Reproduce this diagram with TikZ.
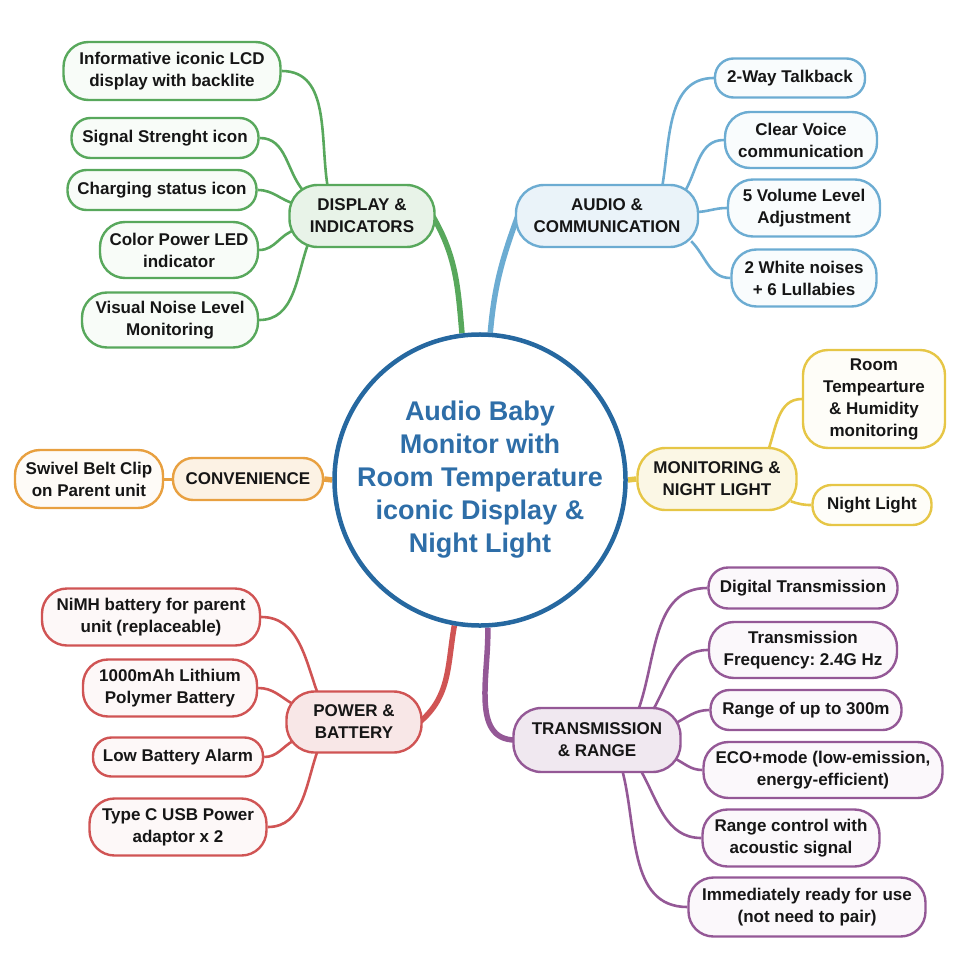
\documentclass[tikz,border=0pt]{standalone}
\usepackage{fontspec}
\setmainfont{Liberation Sans}
\usetikzlibrary{backgrounds}
\definecolor{grn}{RGB}{88,168,92}
\definecolor{blu}{RGB}{108,172,210}
\definecolor{org}{RGB}{232,160,64}
\definecolor{ylw}{RGB}{230,198,70}
\definecolor{rd}{RGB}{208,84,84}
\definecolor{prp}{RGB}{148,88,150}
\definecolor{hubline}{RGB}{38,104,160}
\definecolor{hubtext}{RGB}{46,110,168}
\definecolor{ink}{RGB}{22,22,22}
\newcommand{\leaffont}{\fontsize{17}{22}\selectfont\bfseries\frenchspacing}
\newcommand{\hubfont}{\fontsize{27}{33}\selectfont\bfseries}

\begin{document}
\begin{tikzpicture}[x=1pt,y=1pt,
  leaf/.style={draw=#1, fill=#1!4, line width=2.4pt, rounded corners=19pt,
    align=center, inner sep=0pt, text=ink, font=\leaffont},
  topic/.style={leaf=#1, fill=#1!14, rounded corners=28pt},
  twig/.style={draw=#1, line width=2.6pt},
  limb/.style={draw=#1, line width=5.5pt}]
  \useasboundingbox (0,0) rectangle (960,-960);

  \node[circle, draw=hubline, fill=white, line width=4.5pt, minimum size=284pt, inner sep=0pt,
    align=center, text=hubtext, font=\hubfont] (hub) at (480,-480)
    {Audio Baby\\Monitor with\\Room Temperature\\iconic Display \&\\Night Light};

  \node[topic=grn, minimum width=145pt, minimum height=62pt] (disp) at (362,-216) {DISPLAY \&\\INDICATORS};
  \node[topic=blu, minimum width=182pt, minimum height=62pt] (audio) at (607,-216) {AUDIO \&\\COMMUNICATION};
  \node[topic=org, minimum width=150pt, minimum height=42pt, rounded corners=20pt] (conv) at (248,-479) {CONVENIENCE};
  \node[topic=ylw, minimum width=159pt, minimum height=62pt] (monit) at (717,-479) {MONITORING \&\\NIGHT LIGHT};
  \node[topic=rd, minimum width=135pt, minimum height=61pt] (power) at (354,-722) {POWER \&\\BATTERY};
  \node[topic=prp, minimum width=167pt, minimum height=64pt] (trans) at (597,-740) {TRANSMISSION\\\& RANGE};

  \foreach \nm/\c/\x/\y/\w/\h/\txt in {
    lcd/grn/172/71/217/58/{Informative iconic LCD\\display with backlite},
    signal/grn/165/138/187/40/{Signal Strenght icon},
    charge/grn/162/190/189/40/{Charging status icon},
    led/grn/179/250/158/56/{Color Power LED\\indicator},
    noise/grn/170/320/176/55/{Visual Noise Level\\Monitoring},
    talk/blu/790/78/150/39/{2-Way Talkback},
    voice/blu/801/140/152/56/{Clear Voice\\communication},
    volume/blu/804/208/152/57/{5 Volume Level\\Adjustment},
    lullaby/blu/804/278/145/57/{2 White noises\\+ 6 Lullabies},
    clip/org/89/479/148/58/{Swivel Belt Clip\\on Parent unit},
    temp/ylw/874/399/142/98/{Room\\Tempearture\\\& Humidity\\monitoring},
    light/ylw/872/505/119/40/{Night Light},
    nimh/rd/151/617/218/57/{NiMH battery for parent\\unit (replaceable)},
    lipo/rd/170/688/174/57/{1000mAh Lithium\\Polymer Battery},
    alarm/rd/178/757/170/39/{Low Battery Alarm},
    usbc/rd/178/827/177/57/{Type C USB Power\\adaptor x 2},
    digital/prp/803/588/189/41/{Digital Transmission},
    freq/prp/803/650/188/56/{Transmission\\Frequency: 2.4G Hz},
    range/prp/806/710/191/40/{Range of up to 300m},
    eco/prp/823/770/239/56/{ECO+mode (low-emission,\\energy-efficient)},
    acoustic/prp/791/838/177/57/{Range control with\\acoustic signal},
    pair/prp/807/907/237/59/{Immediately ready for use\\(not need to pair)}}
    \node[leaf=\c, minimum width=\w pt, minimum height=\h pt,
      rounded corners={min(0.5*\h-1,25)}] (\nm) at (\x,-\y) {\txt};

  \begin{scope}[on background layer]
    \draw[limb=grn] ([xshift=-3pt]disp.east) to[out=-60,in=95] (hub.97);
    \draw[limb=blu] ([xshift=3pt]audio.west) to[out=-110,in=85] (hub.86);
    \draw[limb=rd] ([xshift=-3pt]power.east) to[out=40,in=-100] (hub.260);
    \draw[limb=prp] (hub.273) to[out=-88,in=180] ([xshift=3pt]trans.west);
    \draw[limb=org] (conv.east) -- (hub.west);
    \draw[limb=ylw] (hub.east) -- (monit.west);
    \draw[twig=org, line width=3pt] (clip.east) -- (conv.west);

    \foreach \a/\b/\dx/\dy/\i in {lcd/disp.north/-34/-5/100, signal/disp.north west/15/-7/130,
      charge/disp.west/7/12/165, led/disp.west/7/-14/195, noise/disp.south west/20/5/250}
      \draw[twig=grn] (\a.east) to[out=0,in=\i] ([xshift=\dx pt,yshift=\dy pt]\b);

    \foreach \a/\b/\dx/\dy/\o in {audio.north/talk/55/-4/80, audio.north east/voice/-14/-7/60,
      audio.east/volume/-4/4/0, audio.south east/lullaby/-8/7/-45}
      \draw[twig=blu] ([xshift=\dx pt,yshift=\dy pt]\a) to[out=\o,in=180] (\b.west);

    \foreach \a/\b/\dx/\dy/\i in {nimh/power.north/-36/-4/110, lipo/power.north west/8/-14/150,
      alarm/power.south west/8/13/210, usbc/power.south/-36/4/250}
      \draw[twig=rd] (\a.east) to[out=0,in=\i] ([xshift=\dx pt,yshift=\dy pt]\b);

    \foreach \a/\b/\dx/\dy/\o in {monit.north/temp/51/-4/70, monit.south east/light/-7/10/-20}
      \draw[twig=ylw] ([xshift=\dx pt,yshift=\dy pt]\a) to[out=\o,in=180] (\b.west);

    \foreach \a/\b/\dx/\dy/\o in {trans.north/digital/41/-4/70, trans.north/freq/55/-5/60,
      trans.east/range/-8/16/25, trans.east/eco/-8/-18/-25,
      trans.south/acoustic/43/4/-60, trans.south/pair/25/4/-75}
      \draw[twig=prp] ([xshift=\dx pt,yshift=\dy pt]\a) to[out=\o,in=180] (\b.west);
  \end{scope}
\end{tikzpicture}
\end{document}
